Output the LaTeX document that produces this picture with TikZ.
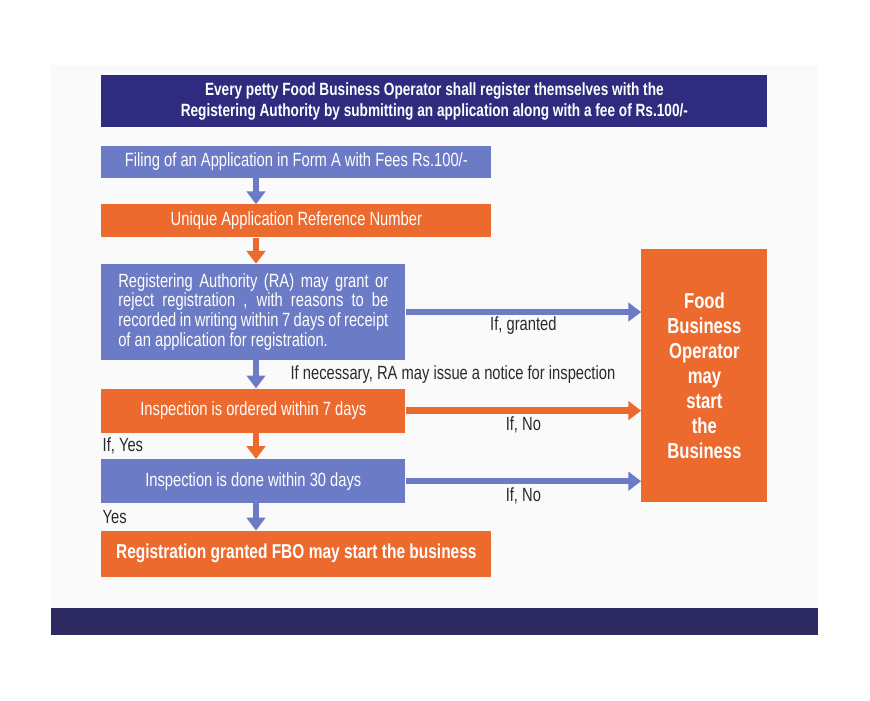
\documentclass[tikz,border=0pt]{standalone}
\usepackage{fontspec}
\setmainfont{Liberation Sans}[FakeStretch=0.77]
\usepackage{tikz}
\usetikzlibrary{arrows.meta, positioning, calc}
\definecolor{colorIndigo}{HTML}{2F2C7F}
\definecolor{colorNavy}{HTML}{2E2B63}
\definecolor{colorAzul}{HTML}{6C7BC5}
\definecolor{colorNaranja}{HTML}{EC6A2E}
\definecolor{colorPanel}{HTML}{FAFAFA}
\definecolor{colorTexto}{HTML}{2A2A2A}

\begin{document}
\begin{tikzpicture}[
        x=0.025cm, y=-0.025cm,
        node distance=0.65cm,
        b/.style={fill=colorAzul, text=white, inner sep=0pt, align=center,
            font=\fontsize{13.6}{14.2}\selectfont},
        o/.style={b, fill=colorNaranja},
        hd/.style={b, fill=colorIndigo, font=\bfseries\fontsize{12.6}{15}\selectfont},
        lbl/.style={text=colorTexto, inner sep=1pt, font=\fontsize{13.6}{14.2}\selectfont},
        fl/.style={line width=0.16cm, -{Triangle[length=0.32cm, width=0.46cm]}}
    ]
        \useasboundingbox (0,0) rectangle (870,700);
        \fill[colorPanel] (51,65) rectangle (818,608);
        \fill[colorNavy] (51,608) rectangle (818,635);

        \node[hd, minimum width=16.65cm, minimum height=1.3cm, anchor=north west] (top) at (101,75)
            {Every petty Food Business Operator shall register themselves with the\\Registering Authority by submitting an application along with a fee of Rs.100/-};
        \node[b, minimum width=9.75cm, minimum height=0.8cm, below=0.45cm of top.south west, anchor=north west] (fil)
            {Filing of an Application in Form A with Fees Rs.100/-};
        \node[o, minimum width=9.75cm, minimum height=0.825cm, below=of fil.south west, anchor=north west] (ref)
            {Unique Application Reference Number};
        \node[b, minimum width=7.6cm, minimum height=2.4cm, text width=6.75cm, align=justify, below=of ref.south west, anchor=north west] (ra)
            {Registering Authority (RA) may grant or\linebreak reject registration , with reasons to be\linebreak recorded in writing within 7 days of receipt\linebreak of an application for registration.};
        \node[o, minimum width=7.6cm, minimum height=1.1cm, below=0.7cm of ra.south west, anchor=north west] (insp)
            {Inspection is ordered within 7 days};
        \node[b, minimum width=7.6cm, minimum height=1.1cm, below=of insp.south west, anchor=north west] (done)
            {Inspection is done within 30 days};
        \node[o, minimum width=9.75cm, minimum height=1.15cm, font=\bfseries\fontsize{14.3}{15}\selectfont, below=0.675cm of done.south west, anchor=north west] (reg)
            {Registration granted FBO may start the business};
        \node[o, minimum width=3.15cm, minimum height=6.325cm, font=\bfseries\fontsize{15.4}{17.8}\selectfont, below=3.025cm of top.south east, anchor=north east] (fbo)
            {Food\\Business\\Operator\\may\\start\\the\\Business};

        \coordinate (ax) at (256,0);
        \draw[fl, colorAzul] (fil.south -| ax) -- (ref.north -| ax);
        \draw[fl, colorNaranja] (ref.south -| ax) -- (ra.north -| ax);
        \draw[fl, colorAzul] (ra.south -| ax) -- (insp.north -| ax)
            node[lbl, midway, right=0.75cm] {If necessary, RA may issue a notice for inspection};
        \draw[fl, colorNaranja] (insp.south -| ax) -- (done.north -| ax);
        \draw[fl, colorAzul] (done.south -| ax) -- (reg.north -| ax);

        \draw[fl, colorAzul] (ra.east) -- (ra.east -| fbo.west) node[lbl, midway, below=0pt] {If, granted};
        \draw[fl, colorNaranja] (insp.east) -- (insp.east -| fbo.west) node[lbl, midway, below=1pt] {If, No};
        \draw[fl, colorAzul] (done.east) -- (done.east -| fbo.west) node[lbl, midway, below=1pt] {If, No};

        \node[lbl, anchor=west] (ifyes) at ($(insp.south west)!0.5!(done.north west)$) {If, Yes};
        \node[lbl, anchor=west] (yes) at ($(done.south west)!0.5!(reg.north west)$) {Yes};
    \end{tikzpicture}
\end{document}
